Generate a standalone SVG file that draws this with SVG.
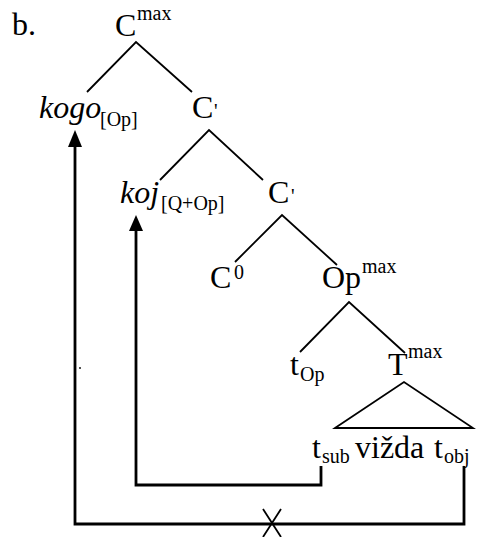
<svg xmlns="http://www.w3.org/2000/svg" width="480" height="537" viewBox="0 0 480 537">
<defs>
<style>
text{font-family:"Liberation Serif","Times New Roman",serif;fill:#000}
.m{font-size:32px}
.s{font-size:20px}
.i{font-style:italic}
.tree{stroke:#000;stroke-width:1.8;fill:none}
.mv{stroke:#000;stroke-width:2.8;fill:none}
</style>
</defs>
<rect width="480" height="537" fill="#fff"/>
<text class="m" x="12" y="35">b.</text>
<g id="Cmax"><text class="m" x="115" y="36">C</text><text class="s" x="137" y="20">max</text></g>
<g id="kogo"><text class="m i" x="39" y="118">kogo</text><text class="s" x="100" y="126">[Op]</text></g>
<g id="Cbar1"><text class="m" x="192" y="118">C</text><text class="s" x="214" y="118">'</text></g>
<g id="koj"><text class="m i" x="120" y="203">koj</text><text class="s" x="161" y="210">[Q+Op]</text></g>
<g id="Cbar2"><text class="m" x="268" y="203">C</text><text class="s" x="291" y="203">'</text></g>
<g id="C0"><text class="m" x="210" y="288">C</text><text class="s" x="234" y="279">0</text></g>
<g id="Opmax"><text class="m" x="322" y="288">Op</text><text class="s" x="362" y="273">max</text></g>
<g id="tOp"><text class="m" x="290" y="375">t</text><text class="s" x="300" y="381">Op</text></g>
<g id="Tmax"><text class="m" x="388" y="375">T</text><text class="s" x="408" y="358">max</text></g>
<g id="tsub"><text class="m" x="312" y="458">t</text><text class="s" x="322" y="463">sub</text></g>
<g id="vizda"><text class="m" x="355" y="458">vižda</text></g>
<g id="tobj"><text class="m" x="434" y="458">t</text><text class="s" x="444" y="463">obj</text></g>
<circle cx="80" cy="368" r="0.9" fill="#000"/>
<g id="connectors">
<path class="tree" d="M87,92 L136,42 L192,92"/>
<path class="tree" d="M160,180 L209,130 L263,180"/>
<path class="tree" d="M235,262 L282,215 L337,265"/>
<path class="tree" d="M300,352 L349,302 L405,353"/>
<path class="tree" d="M335,428 L404,382 L473,428 Z"/>
<path class="mv" d="M321,466 L321,485 L136,485 L136,230"/>
<path d="M129,231 L136,215 L143,231 Z" fill="#000"/>
<path class="mv" d="M464,466 L464,524 L75,524 L75,146"/>
<path d="M68,147 L75,130 L82,147 Z" fill="#000"/>
<path class="tree" d="M263,509 L281,537 M281,509 L263,537"/>
</g>
</svg>
